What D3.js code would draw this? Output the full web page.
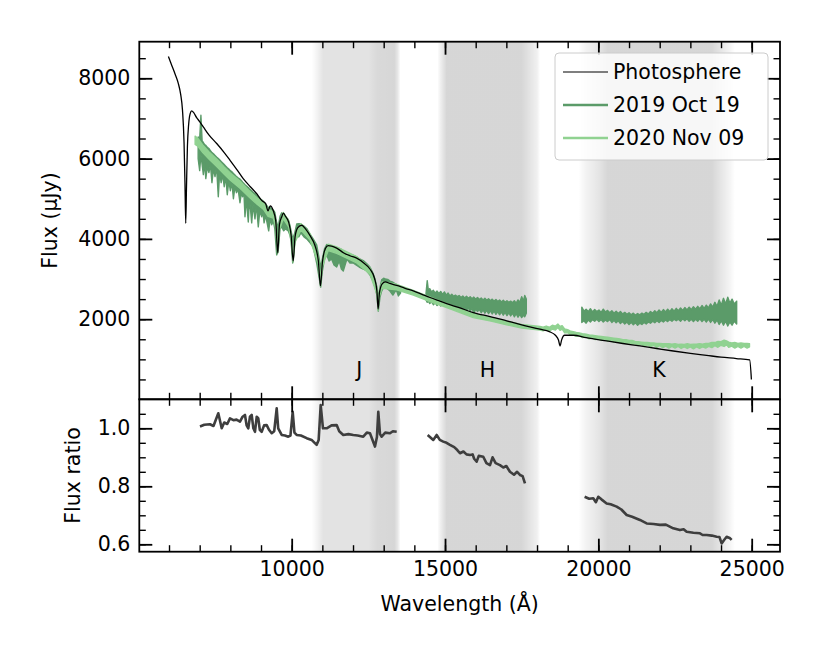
<!DOCTYPE html>
<html><head><meta charset="utf-8">
<script src="https://cdn.jsdelivr.net/npm/d3@7"></script>
<style>body{margin:0;background:#fff} text{font-family:"DejaVu Sans",sans-serif;fill:#000}</style>
</head><body><svg id="c" width="830" height="659"></svg>
<script>
// ---------------- DATA ----------------
const photoWave = [5980,6100,6200,6300,6380,6440,6490,6520,6545,6570,6600,6640,6690,6740,6800,6900,7000,7118,7300,7555,7800,7990,8200,8420,8650,8860,9020,9150,9229,9300,9400,9480,9546,9600,9680,9726,9800,9900,9980,10049,10110,10200,10325,10450,10600,10750,10870,10938,11000,11100,11193,11300,11467,11700,11900,12120,12350,12553,12700,12780,12818,12860,12950,13050,13200,13424,13700,13965,14250,14510,14835,15054,15488,15920,16500,17010,17500,18095,18400,18600,18700,18751,18800,18900,19183,19600,20270,20800,21357,21900,22443,23000,23530,24000,24500,24933,24990];
const photoFlux = [8540,8300,8100,7880,7600,7200,6400,5400,4390,5300,6300,6850,7120,7190,7150,7020,6920,6790,6590,6375,6150,5958,5740,5500,5300,5125,4958,4880,4700,4820,4700,4450,3650,4350,4560,4640,4560,4420,4100,3450,4050,4280,4340,4250,4080,3850,3450,2830,3400,3760,3830,3820,3770,3650,3580,3520,3400,3250,3020,2700,2250,2650,2880,2930,2890,2840,2770,2708,2620,2540,2450,2390,2280,2165,2060,1958,1860,1750,1690,1600,1480,1333,1480,1600,1600,1540,1458,1395,1333,1270,1208,1150,1100,1055,1020,985,500];

// 2019 Oct 19 spectrum: [wavelength, low, high] (noise envelope), three segments
const obs2019J = [[6950,6000,6540],[7000,5700,6500],[7040,6100,7080],[7080,5850,6440],[7120,5600,6400],[7160,5900,6350],[7200,5500,6330],[7250,5800,6280],[7300,5650,6250],[7350,5850,6200],[7400,5400,6150],[7450,5750,6120],[7500,5550,6080],[7550,5800,6040],[7607,5050,6000],[7650,5650,5970],[7700,5400,5930],[7750,5600,5890],[7800,5300,5850],[7850,5550,5810],[7900,5100,5770],[7950,5450,5740],[8000,5200,5700],[8050,5400,5670],[8100,5000,5630],[8150,5300,5590],[8200,5150,5550],[8250,5250,5520],[8314,4900,5490],[8360,5150,5450],[8400,5050,5410],[8440,5200,5380],[8477,4550,5350],[8520,5000,5320],[8585,4420,5280],[8620,4950,5250],[8650,4800,5230],[8696,4400,5200],[8740,4850,5160],[8803,4500,5130],[8850,4850,5090],[8911,4300,5050],[8960,4700,5010],[9022,4550,4970],[9060,4700,4950],[9100,4400,4910],[9150,4600,4870],[9185,4450,4830],[9250,4200,4770],[9300,4500,4790],[9348,4350,4750],[9400,4450,4720],[9450,4250,4660],[9511,3600,4400],[9560,3700,4300],[9620,4250,4560],[9674,4300,4650],[9740,4200,4600],[9800,4250,4540],[9889,4200,4480],[9940,4100,4350],[9980,3950,4200],[10033,3400,4000],[10100,3900,4150],[10163,4100,4370],[10230,4050,4380],[10300,4150,4370],[10400,4050,4320],[10489,4000,4260],[10600,3900,4120],[10700,3800,4000],[10815,3400,3850],[10946,2800,3300],[11000,3200,3500],[11070,3500,3750],[11141,3600,3860],[11220,3450,3850],[11300,3500,3820],[11380,3350,3800],[11467,3300,3780],[11550,3450,3760],[11620,3250,3740],[11682,3200,3700],[11800,3500,3660],[11900,3400,3620],[12008,3400,3590],[12100,3350,3560],[12200,3300,3510],[12334,3250,3460],[12450,3200,3380],[12553,3100,3300],[12650,2950,3150],[12716,2800,3000],[12780,2600,2800],[12824,2200,2500],[12880,2550,2800],[12934,2700,2980],[13000,2800,3020],[13050,2800,3000],[13130,2750,2990],[13205,2700,2950],[13300,2600,2920],[13380,2700,2880],[13424,2700,2860],[13480,2580,2830],[13550,2650,2800]];
const obs2019H = [[14380,2480,2640],[14420,2420,2960],[14460,2450,2700],[14500,2390,2760],[14560,2430,2680],[14620,2360,2720],[14680,2410,2650],[14740,2340,2700],[14800,2400,2640],[14860,2330,2690],[14920,2380,2620],[14980,2320,2680],[15040,2360,2600],[15100,2300,2650],[15160,2350,2580],[15220,2280,2620],[15280,2330,2570],[15340,2260,2600],[15400,2310,2560],[15460,2240,2590],[15520,2300,2540],[15580,2230,2580],[15640,2290,2530],[15700,2220,2570],[15760,2280,2520],[15820,2200,2560],[15880,2270,2510],[15940,2150,2550],[16000,2250,2500],[16060,2190,2540],[16120,2240,2490],[16180,2160,2530],[16240,2230,2480],[16300,2150,2520],[16360,2220,2470],[16420,2140,2510],[16480,2210,2460],[16540,2130,2500],[16600,2200,2450],[16660,2120,2490],[16720,2190,2440],[16780,2110,2480],[16840,2180,2430],[16900,2100,2470],[16960,2170,2420],[17020,2090,2460],[17080,2160,2420],[17140,2080,2450],[17200,2150,2410],[17260,2060,2460],[17320,2140,2400],[17380,2050,2480],[17440,2120,2420],[17500,2040,2560],[17560,2100,2450],[17600,2060,2590],[17650,2150,2500]];
const obs2019K = [[19460,1920,2300],[19530,1960,2200],[19600,1900,2250],[19670,1980,2190],[19740,1930,2260],[19810,1990,2180],[19880,1950,2240],[19950,2000,2190],[20020,1940,2230],[20090,1990,2170],[20160,1930,2250],[20230,1980,2180],[20300,1940,2220],[20370,1990,2160],[20440,1920,2210],[20510,1970,2150],[20580,1910,2200],[20650,1960,2140],[20720,1890,2190],[20790,1940,2130],[20860,1880,2170],[20930,1930,2120],[21000,1870,2160],[21070,1920,2110],[21140,1860,2150],[21210,1910,2100],[21280,1850,2140],[21350,1900,2110],[21420,1870,2150],[21490,1920,2120],[21560,1880,2170],[21630,1930,2130],[21700,1900,2190],[21770,1950,2150],[21840,1910,2210],[21910,1960,2160],[21980,1920,2230],[22050,1970,2170],[22120,1930,2240],[22190,1980,2180],[22260,1940,2250],[22330,1990,2190],[22400,1950,2260],[22470,2000,2200],[22540,1960,2270],[22610,2000,2210],[22680,1950,2280],[22750,2010,2220],[22820,1960,2290],[22890,2010,2230],[22960,1950,2300],[23030,2000,2240],[23100,1940,2310],[23170,2000,2250],[23240,1950,2320],[23310,2010,2260],[23380,1940,2340],[23450,2000,2270],[23520,1930,2350],[23590,2000,2280],[23660,1920,2380],[23730,1990,2300],[23800,1900,2420],[23870,1980,2320],[23940,1870,2480],[24010,1960,2350],[24080,1850,2520],[24150,1950,2380],[24220,1830,2550],[24290,1930,2400],[24360,1850,2500],[24430,1950,2380],[24510,1880,2450]];

// 2020 Nov 09 spectrum: [wavelength, low, high]
const obs2020 = [[6850,6350,6560],[6950,6300,6500],[7100,6150,6340],[7300,5990,6170],[7555,5800,5990],[7800,5610,5790],[8000,5460,5640],[8314,5260,5440],[8600,5050,5210],[8860,4870,5030],[9074,4740,4900],[9229,4560,4740],[9400,4520,4680],[9480,4270,4430],[9546,3650,3800],[9600,4220,4380],[9726,4500,4660],[9900,4300,4460],[9980,3970,4130],[10049,3420,3580],[10110,3920,4080],[10300,4220,4380],[10600,3970,4130],[10870,3370,3530],[10938,2820,2980],[11000,3320,3480],[11193,3710,3870],[11467,3640,3800],[12120,3400,3560],[12553,3120,3280],[12780,2620,2780],[12818,2220,2380],[12860,2570,2730],[12950,2770,2930],[13424,2730,2870],[13965,2600,2720],[14510,2440,2550],[15054,2290,2390],[15920,2040,2140],[16500,1950,2040],[17010,1860,1950],[17500,1780,1870],[18095,1730,1820],[18200,1710,1800],[18300,1740,1830],[18400,1700,1800],[18500,1750,1850],[18600,1730,1830],[18680,1790,1880],[18750,1720,1820],[18820,1750,1840],[18900,1660,1760],[19000,1660,1740],[19100,1600,1700],[19183,1610,1690],[19280,1570,1670],[19380,1590,1660],[19480,1540,1640],[19600,1560,1630],[19700,1510,1610],[19800,1530,1600],[19900,1490,1590],[20000,1510,1580],[20100,1470,1570],[20200,1490,1560],[20300,1450,1550],[20400,1470,1540],[20500,1430,1530],[20600,1450,1520],[20700,1410,1510],[20800,1430,1490],[20900,1390,1490],[21000,1410,1470],[21100,1370,1470],[21200,1390,1450],[21300,1340,1440],[21400,1370,1430],[21500,1320,1420],[21600,1360,1420],[21700,1310,1410],[21800,1350,1410],[21900,1300,1400],[22000,1340,1400],[22100,1290,1390],[22200,1330,1390],[22300,1280,1390],[22400,1320,1380],[22500,1280,1390],[22600,1320,1370],[22700,1270,1380],[22800,1310,1370],[22900,1270,1390],[23000,1310,1370],[23100,1260,1380],[23200,1310,1380],[23300,1270,1390],[23400,1310,1380],[23500,1280,1400],[23600,1320,1400],[23700,1290,1420],[23800,1340,1420],[23900,1300,1450],[24000,1350,1440],[24100,1320,1480],[24180,1360,1460],[24250,1300,1430],[24350,1330,1410],[24450,1280,1420],[24550,1320,1400],[24650,1280,1410],[24750,1320,1400],[24850,1280,1400],[24930,1310,1390]];

// Flux ratio segments: [wavelength, ratio]
const ratioJ = [[7010,1.006],[7150,1.012],[7336,1.014],[7450,1.008],[7607,1.052],[7718,1.0],[7800,1.02],[7900,1.015],[7988,1.034],[8100,1.028],[8200,1.03],[8314,1.023],[8400,1.04],[8477,1.046],[8530,1.01],[8585,1.0],[8640,1.04],[8696,1.046],[8750,1.0],[8803,0.988],[8860,1.04],[8911,1.034],[8960,0.995],[9022,0.988],[9100,1.01],[9185,1.011],[9260,0.995],[9348,0.983],[9430,0.99],[9511,1.069],[9560,1.0],[9674,0.977],[9780,0.975],[9889,0.971],[9960,0.975],[10033,1.057],[10090,0.985],[10163,0.977],[10300,0.975],[10489,0.966],[10650,0.96],[10815,0.943],[10880,0.96],[10946,1.08],[11020,1.0],[11141,1.0],[11300,1.01],[11467,1.011],[11550,0.99],[11682,0.977],[11850,0.98],[12008,0.977],[12150,0.975],[12334,0.971],[12450,0.985],[12553,0.983],[12716,0.937],[12780,0.97],[12824,1.057],[12880,0.98],[12934,0.971],[13050,0.985],[13205,0.983],[13300,0.99],[13424,0.988]];
const ratioH = [[14434,0.977],[14617,0.96],[14728,0.977],[14830,0.96],[14943,0.954],[15050,0.95],[15161,0.943],[15300,0.935],[15400,0.925],[15488,0.914],[15600,0.92],[15700,0.91],[15814,0.908],[15900,0.91],[15950,0.895],[16032,0.885],[16100,0.905],[16247,0.902],[16350,0.88],[16466,0.873],[16550,0.9],[16650,0.88],[16792,0.873],[16900,0.865],[17000,0.87],[17118,0.85],[17250,0.84],[17350,0.85],[17444,0.839],[17530,0.835],[17607,0.81]];
const ratioK = [[19552,0.764],[19700,0.757],[19834,0.759],[19920,0.745],[19997,0.764],[20100,0.755],[20270,0.741],[20400,0.738],[20597,0.73],[20750,0.72],[20923,0.701],[21100,0.695],[21356,0.684],[21575,0.672],[21800,0.67],[22008,0.667],[22200,0.668],[22442,0.655],[22660,0.649],[22780,0.652],[22879,0.643],[23100,0.64],[23312,0.638],[23400,0.632],[23531,0.632],[23700,0.63],[23857,0.626],[23950,0.625],[24020,0.603],[24100,0.615],[24183,0.626],[24280,0.622],[24346,0.615]];

// Filter band shading: [wavelength, shade]
const bandJ = [[10650,0],[10800,0.04],[11030,0.11],[12500,0.11],[12790,0.15],[13350,0.16],[13450,0.1],[13550,0]];
const bandH = [[14750,0],[14850,0.06],[15050,0.16],[17500,0.16],[17700,0.12],[18000,0.06],[18100,0]];
const bandK = [[19350,0],[19600,0.05],[20000,0.1],[20300,0.16],[23700,0.16],[24000,0.1],[24300,0.04],[24450,0]];
const bandNames = ["J","H","K"];
const bandLabelWave = [12200,16380,21980];
const bandLabelFlux = 560;

const fluxTicks = [2000,4000,6000,8000];
const fluxMinor = d3.range(500,8501,500);
const ratioTicks = [0.6,0.8,1.0];
const ratioMinor = [0.6,0.65,0.7,0.75,0.8,0.85,0.9,0.95,1.0,1.05];
const waveTicks = [10000,15000,20000,25000];
const waveMinor = d3.range(6000,25001,1000);

const seriesNames = ["Photosphere","2019 Oct 19","2020 Nov 09"];
const seriesColors = ["#000000","#5b9b69","#90d291"];
const ratioColor = "#3e3e3e";

// ---------------- LAYOUT ----------------
const L=139.3, R=780, T1=41.7, B1=399.3, B2=551.7;
const x = d3.scaleLinear().domain([5031,25923]).range([L,R]);
const y1 = d3.scaleLinear().domain([5,8911]).range([B1,T1]);
const y2 = d3.scaleLinear().domain([0.5745,1.1]).range([B2,B1]);

const svg = d3.select("#c");
const defs = svg.append("defs");
defs.append("clipPath").attr("id","clipTop").append("rect").attr("x",L).attr("y",T1).attr("width",R-L).attr("height",B1-T1);
defs.append("clipPath").attr("id","clipBot").append("rect").attr("x",L).attr("y",B1).attr("width",R-L).attr("height",B2-B1);

// band shading gradients
[bandJ,bandH,bandK].forEach((b,i)=>{
  const w0=b[0][0], w1=b[b.length-1][0];
  const g = defs.append("linearGradient").attr("id","band"+i).attr("gradientUnits","userSpaceOnUse")
    .attr("x1",x(w0)).attr("x2",x(w1)).attr("y1",0).attr("y2",0);
  b.forEach(d=>g.append("stop").attr("offset",(d[0]-w0)/(w1-w0)).attr("stop-color","#000").attr("stop-opacity",d[1]));
  [[T1,B1],[B1,B2]].forEach(([a,c])=>{
    svg.append("rect").attr("x",x(w0)).attr("width",x(w1)-x(w0)).attr("y",a).attr("height",c-a).attr("fill","url(#band"+i+")");
  });
});

const gTop = svg.append("g").attr("clip-path","url(#clipTop)");
const area = d3.area().x(d=>x(d[0])).y0(d=>y1(d[1])).y1(d=>y1(d[2]));
[obs2019J,obs2019H,obs2019K].forEach(seg=>{
  gTop.append("path").datum(seg).attr("d",area).attr("fill",seriesColors[1]).attr("stroke",seriesColors[1]).attr("stroke-width",1.4).attr("stroke-linejoin","round");
});
gTop.append("path").datum(obs2020).attr("d",area).attr("fill",seriesColors[2]).attr("stroke",seriesColors[2]).attr("stroke-width",1.3).attr("stroke-linejoin","round");
const photo = photoWave.map((w,i)=>[w,photoFlux[i]]);
gTop.append("path").datum(photo).attr("d",d3.line().x(d=>x(d[0])).y(d=>y1(d[1])).curve(d3.curveMonotoneX))
  .attr("fill","none").attr("stroke","#000").attr("stroke-width",1.3);

// band labels
bandNames.forEach((n,i)=>{
  svg.append("text").attr("x",x(bandLabelWave[i])).attr("y",y1(bandLabelFlux)).attr("text-anchor","middle")
    .attr("font-size","20.5px").text(n);
});

// ratio
const gBot = svg.append("g").attr("clip-path","url(#clipBot)");
[ratioJ,ratioH,ratioK].forEach(seg=>{
  gBot.append("path").datum(seg).attr("d",d3.line().x(d=>x(d[0])).y(d=>y2(d[1])))
    .attr("fill","none").attr("stroke",ratioColor).attr("stroke-width",2.6).attr("stroke-linejoin","round");
});

// ---------------- AXES ----------------
function styleAxis(g,w){ g.select(".domain").remove(); g.selectAll(".tick line").attr("stroke","#000").attr("stroke-width",w); g.selectAll("text").attr("font-size","20.5px").attr("font-family","DejaVu Sans").attr("fill","#000"); }
function add(axis,tx,ty,w){ const g=svg.append("g").attr("transform",`translate(${tx},${ty})`).call(axis); styleAxis(g,w); return g; }

// top panel
add(d3.axisLeft(y1).tickValues(fluxTicks).tickSize(-13).tickPadding(9).tickFormat(d3.format("d")),L,0,1.8);
add(d3.axisLeft(y1).tickValues(fluxMinor).tickSize(-6.5).tickFormat(""),L,0,1.4);
add(d3.axisRight(y1).tickValues(fluxTicks).tickSize(-13).tickFormat(""),R,0,1.8);
add(d3.axisRight(y1).tickValues(fluxMinor).tickSize(-6.5).tickFormat(""),R,0,1.4);
add(d3.axisTop(x).tickValues(waveTicks).tickSize(-13).tickFormat(""),0,T1,1.8);
add(d3.axisTop(x).tickValues(waveMinor).tickSize(-6.5).tickFormat(""),0,T1,1.4);
add(d3.axisBottom(x).tickValues(waveTicks).tickSize(-13).tickFormat(""),0,B1,1.8);
add(d3.axisBottom(x).tickValues(waveMinor).tickSize(-6.5).tickFormat(""),0,B1,1.4);
// bottom panel
add(d3.axisLeft(y2).tickValues(ratioTicks).tickSize(-13).tickPadding(9).tickFormat(d3.format(".1f")),L,0,1.8);
add(d3.axisLeft(y2).tickValues(ratioMinor).tickSize(-6.5).tickFormat(""),L,0,1.4);
add(d3.axisRight(y2).tickValues(ratioTicks).tickSize(-13).tickFormat(""),R,0,1.8);
add(d3.axisRight(y2).tickValues(ratioMinor).tickSize(-6.5).tickFormat(""),R,0,1.4);
add(d3.axisTop(x).tickValues(waveTicks).tickSize(-13).tickFormat(""),0,B1,1.8);
add(d3.axisTop(x).tickValues(waveMinor).tickSize(-6.5).tickFormat(""),0,B1,1.4);
add(d3.axisBottom(x).tickValues(waveTicks).tickSize(-13).tickPadding(10).tickFormat(d3.format("d")),0,B2,1.8);
add(d3.axisBottom(x).tickValues(waveMinor).tickSize(-6.5).tickFormat(""),0,B2,1.4);

// frames
svg.append("rect").attr("x",L).attr("y",T1).attr("width",R-L).attr("height",B1-T1).attr("fill","none").attr("stroke","#000").attr("stroke-width",1.8);
svg.append("rect").attr("x",L).attr("y",B1).attr("width",R-L).attr("height",B2-B1).attr("fill","none").attr("stroke","#000").attr("stroke-width",1.8);

// axis titles
svg.append("text").attr("transform","translate(57,220.5) rotate(-90)").attr("text-anchor","middle").attr("font-size","20.5px").text("Flux (μJy)");
svg.append("text").attr("transform","translate(80,475.5) rotate(-90)").attr("text-anchor","middle").attr("font-size","20.5px").text("Flux ratio");
svg.append("text").attr("x",(L+R)/2).attr("y",611).attr("text-anchor","middle").attr("font-size","20.5px").text("Wavelength (Å)");

// legend
const lg = svg.append("g");
lg.append("rect").attr("x",555).attr("y",53).attr("width",213).attr("height",107).attr("rx",4)
  .attr("fill","#fff").attr("fill-opacity",0.8).attr("stroke","#cccccc").attr("stroke-width",1);
const lw = [1.2,2.6,2.6];
seriesNames.forEach((n,i)=>{
  const yy = 72 + i*33;
  lg.append("line").attr("x1",563).attr("x2",608).attr("y1",yy).attr("y2",yy).attr("stroke",seriesColors[i]).attr("stroke-width",lw[i]);
  lg.append("text").attr("x",613).attr("y",yy).attr("dy","0.36em").attr("font-size","20.5px").text(n);
});
</script></body></html>
